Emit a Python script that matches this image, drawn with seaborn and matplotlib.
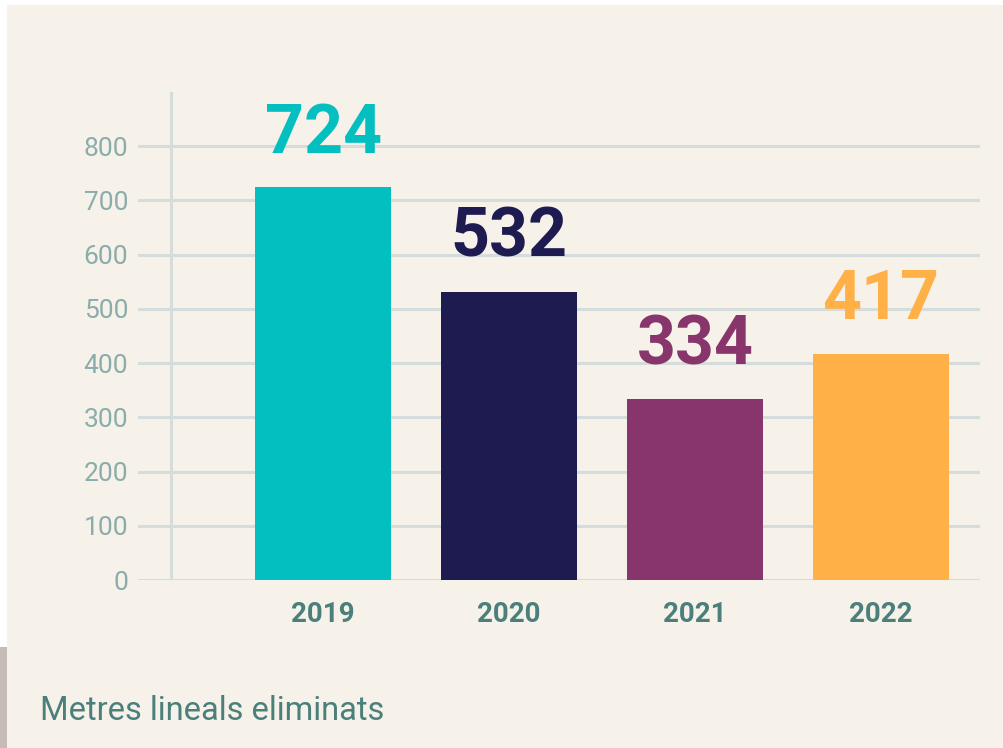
import matplotlib
matplotlib.use("Agg")
import matplotlib.pyplot as plt
import seaborn as sns
import pandas as pd
from matplotlib.patches import Rectangle

years = ["2019", "2020", "2021", "2022"]
metres = [724, 532, 334, 417]
colors = ["#04bfbf", "#1e1b50", "#88356b", "#ffb147"]
yticks = [0, 100, 200, 300, 400, 500, 600, 700, 800]
title = "Metres lineals eliminats"

CREAM = "#f6f1e9"
GRID = "#d5dddc"
TICK = "#8aadab"
DARK = "#4a7f7c"

sns.set_theme(style="white")
plt.rcParams["font.family"] = ["Roboto", "DejaVu Sans"]

df = pd.DataFrame({"year": years, "metres": metres})

fig = plt.figure(figsize=(10.04, 7.48), dpi=100)
fig.patch.set_facecolor("white")
W, H = 1004, 748
# cream panel and grey strip on the left
fig.patches.append(Rectangle((7 / W, 0), 1, (H - 5) / H, transform=fig.transFigure,
                             facecolor=CREAM, edgecolor="none", zorder=-2))
fig.patches.append(Rectangle((0, 0), 7 / W, (H - 647) / H, transform=fig.transFigure,
                             facecolor="#c5bcb8", edgecolor="none", zorder=-2))

ax = fig.add_axes([138 / W, (H - 580) / H, (980 - 138) / W, (580 - 92) / H])
ax.set_facecolor("none")

sns.barplot(data=df, x="year", y="metres", hue="year", palette=colors, legend=False,
            width=0.73, saturation=1, linewidth=0, ax=ax, zorder=3)

ax.set_xlim(-0.995, 3.532)
ax.set_ylim(0, 900)
ax.set_yticks(yticks)
ax.yaxis.grid(True, color=GRID, lw=2.2, zorder=0)
ax.xaxis.grid(False)
ax.axvline(-0.82, color=GRID, lw=2.2, zorder=0)
for s in ax.spines.values():
    s.set_visible(False)

ax.set_xlabel("")
ax.set_ylabel("")
ax.tick_params(axis="y", length=0, pad=7, labelsize=19, labelcolor=TICK)
ax.tick_params(axis="x", length=0, pad=15, labelsize=20, labelcolor=DARK)
for lab in ax.get_xticklabels():
    lab.set_fontweight("bold")

for i, (v, c) in enumerate(zip(metres, colors)):
    ax.annotate(str(v), (i, v), xytext=(0, 25), textcoords="offset points",
                ha="center", va="baseline", fontsize=49, fontweight="bold", color=c)

fig.text(40 / W, (H - 720) / H, title, fontsize=23.5, color=DARK, va="baseline", ha="left")

fig.savefig("out.png", dpi=100)
